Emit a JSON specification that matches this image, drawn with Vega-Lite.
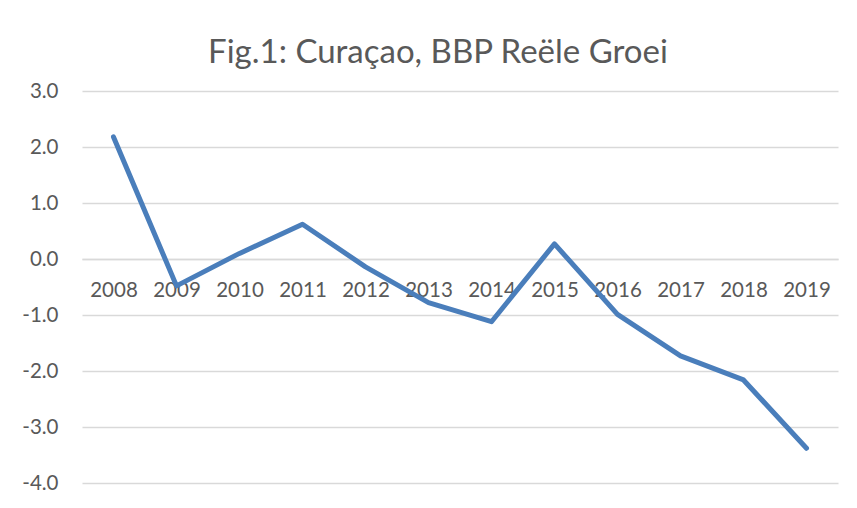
{
  "$schema": "https://vega.github.io/schema/vega-lite/v6.json",
  "autosize": "none",
  "width": 756,
  "height": 392,
  "padding": {"left": 82, "top": 91, "right": 19, "bottom": 25},
  "background": "white",
  "config": {"view": {"stroke": null}, "font": "Lato"},
  "title": {
    "text": "Fig.1: Curaçao, BBP Reële Groei",
    "font": "Lato",
    "fontSize": 33,
    "fontWeight": "normal",
    "color": "#595959",
    "anchor": "middle",
    "offset": 11,
    "dx": -22
  },
  "data": {
    "values": [
      {"jaar": "2008", "groei": 2.18},
      {"jaar": "2009", "groei": -0.48},
      {"jaar": "2010", "groei": 0.1},
      {"jaar": "2011", "groei": 0.62},
      {"jaar": "2012", "groei": -0.14},
      {"jaar": "2013", "groei": -0.78},
      {"jaar": "2014", "groei": -1.12},
      {"jaar": "2015", "groei": 0.27},
      {"jaar": "2016", "groei": -0.99},
      {"jaar": "2017", "groei": -1.73},
      {"jaar": "2018", "groei": -2.16},
      {"jaar": "2019", "groei": -3.38}
    ]
  },
  "mark": {"type": "line", "color": "#4A7EBB", "strokeWidth": 5, "strokeJoin": "round", "strokeCap": "round"},
  "encoding": {
    "x": {
      "field": "jaar",
      "type": "ordinal",
      "scale": {"paddingInner": 0, "paddingOuter": 0},
      "axis": {
        "title": null,
        "labelAngle": 0,
        "labelFontSize": 20.5,
        "labelColor": "#595959",
        "labelPadding": 21,
        "ticks": false,
        "domain": true,
        "domainColor": "#D9D9D9",
        "domainWidth": 1.5,
        "offset": -224,
        "zindex": 0
      }
    },
    "y": {
      "field": "groei",
      "type": "quantitative",
      "scale": {"domain": [-4, 3], "nice": false, "zero": false},
      "axis": {
        "title": null,
        "values": [-4, -3, -2, -1, 0, 1, 2, 3],
        "labelExpr": "(datum.value < 0 ? '-' : '') + format(abs(datum.value), '.1f')",
        "labelFontSize": 20.5,
        "labelColor": "#595959",
        "labelPadding": 24,
        "ticks": false,
        "domain": false,
        "grid": true,
        "gridColor": "#D9D9D9",
        "gridWidth": 1.5
      }
    }
  }
}
